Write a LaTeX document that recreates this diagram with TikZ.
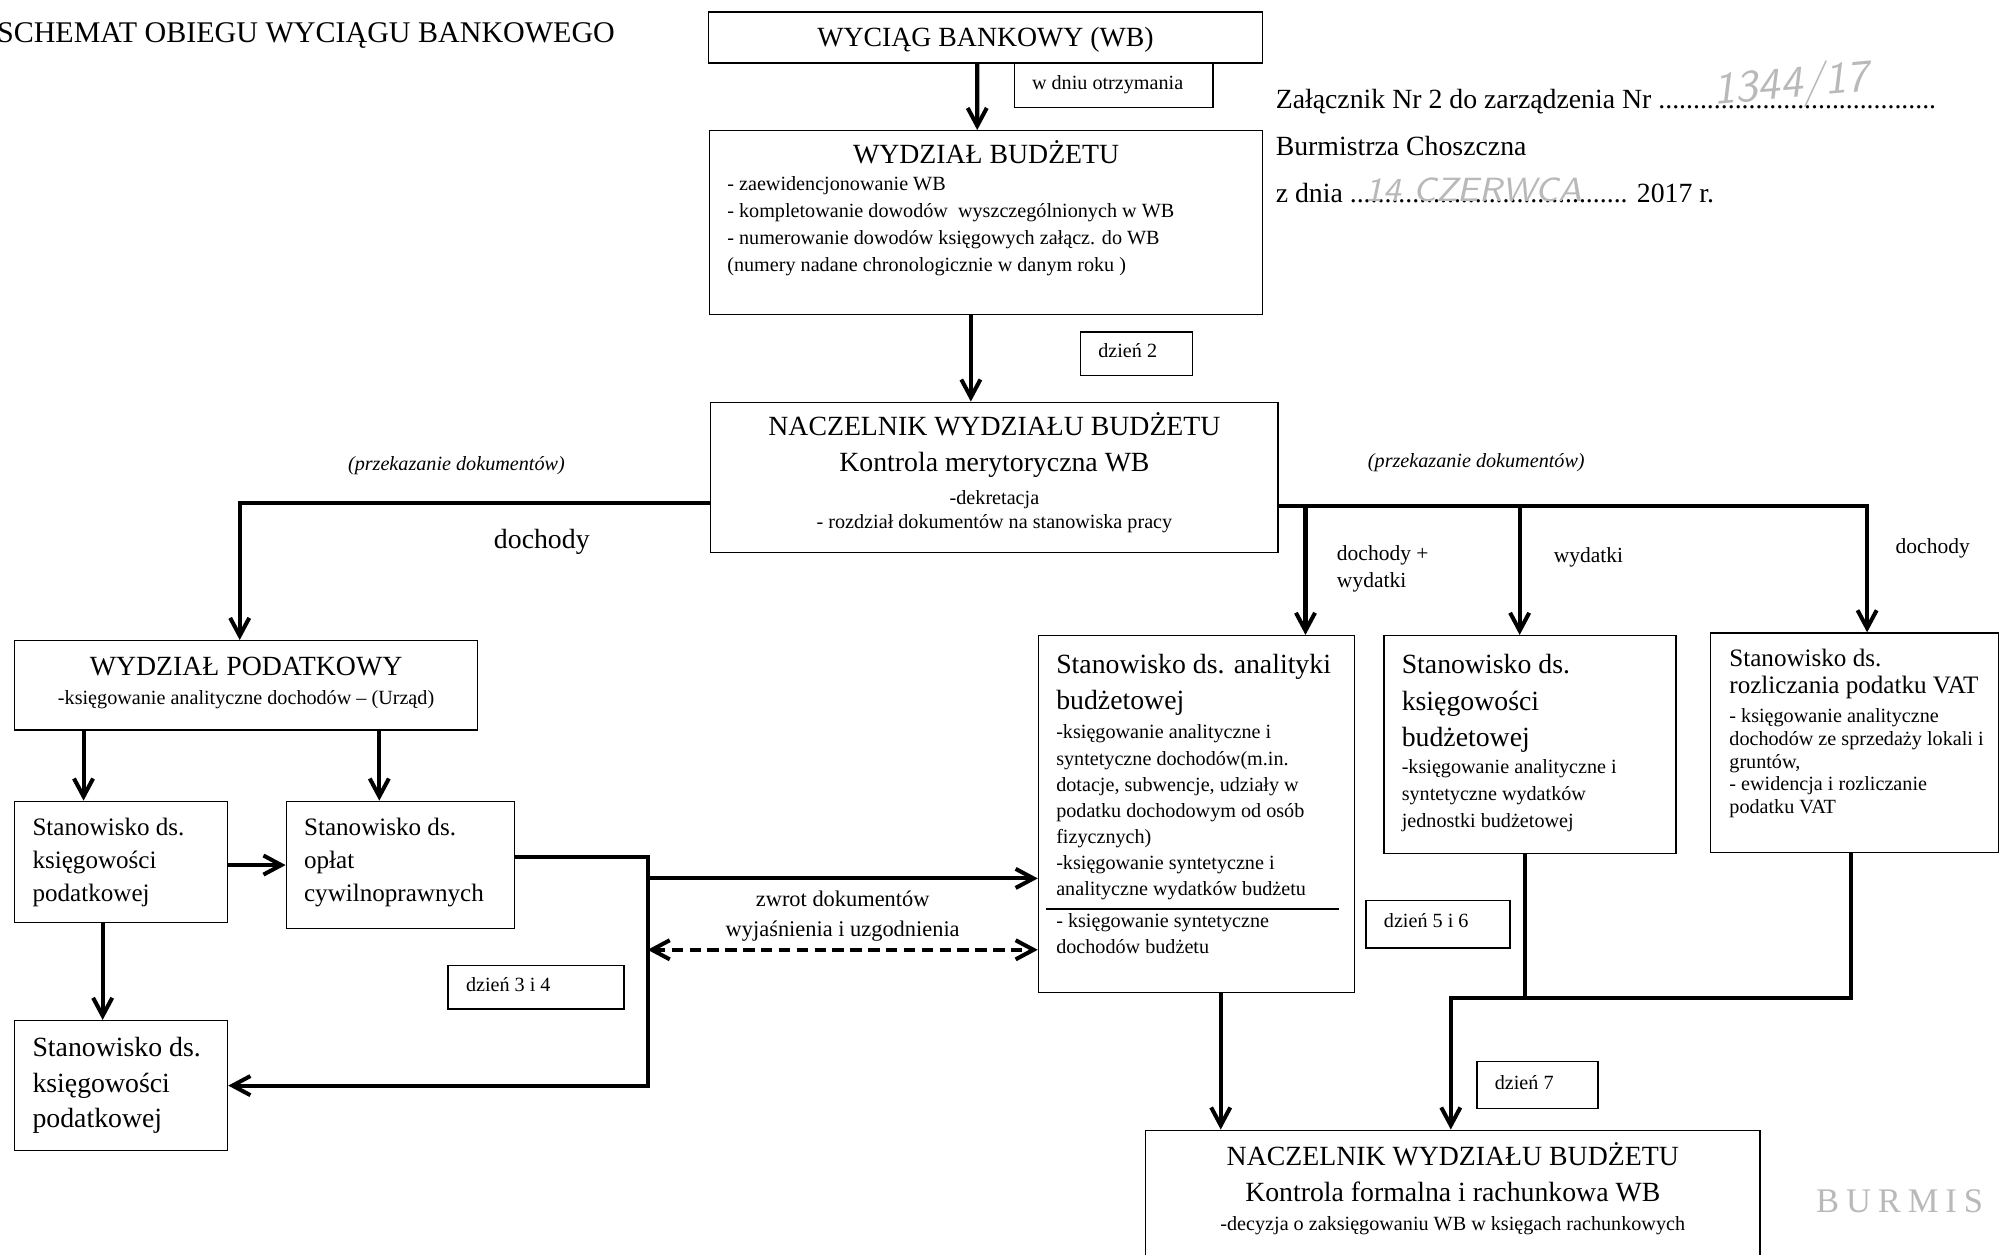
\documentclass[tikz,border=0pt]{standalone}
\usepackage{fontspec}
\setmainfont{Liberation Serif}
\usepackage{tikz}
\usetikzlibrary{arrows.meta, positioning, calc}
\setlength{\parindent}{0pt}

\newcommand{\hdfont}{\fontsize{6.2}{8}\selectfont}
\newcommand{\mdfont}{\fontsize{5.6}{7.4}\selectfont}
\newcommand{\smfont}{\fontsize{4.5}{6}\selectfont}
\newcommand{\lbfont}{\fontsize{4.8}{6}\selectfont}

\begin{document}
\begin{tikzpicture}[
  box/.style={draw, line width=0.3pt, anchor=north west, inner xsep=0.14cm, inner ysep=0pt, align=left,
    execute at begin node={\spaceskip=0pt\xspaceskip=0pt}},
  daybox/.style={box, font=\smfont},
  flow/.style={line width=0.9pt, -{Straight Barb[length=1.4mm, width=1.5mm]}},
  link/.style={line width=0.9pt},
  backflow/.style={line width=0.9pt, dash pattern=on 0.9mm off 0.5mm, {Straight Barb[length=1.4mm, width=1.5mm]}-{Straight Barb[length=1.4mm, width=1.5mm]}},
  tag/.style={inner sep=0pt, font=\lbfont},
  hand/.style={inner sep=0pt, text=gray!55}
]
\path[use as bounding box, fill=white] (0,0) rectangle (15.68,-9.84);

% Heading
\node[anchor=base west, inner sep=0pt, font=\fontsize{6.7}{8}\selectfont] (title) at (-0.03,-0.33) {SCHEMAT OBIEGU WYCIĄGU BANKOWEGO};
\node[anchor=base west, inner sep=0pt, font=\hdfont] (zal) at (10.00,-0.85) {Załącznik Nr 2 do zarządzenia Nr ........................................};
\node[anchor=base west, inner sep=0pt, font=\hdfont] (burm) at (10.00,-1.22) {Burmistrza Choszczna};
\node[anchor=base west, inner sep=0pt, font=\hdfont] (zdnia) at (10.00,-1.59) {z dnia ........................................ 2017 r.};
\node[hand, rotate=5, font=\sffamily\itshape\fontsize{10}{10}\selectfont] (nr) at (14.05,-0.68) {1344/17};
\node[hand, font=\sffamily\itshape\fontsize{7.5}{8}\selectfont] (data) at (11.56,-1.49) {14 CZERWCA};
\node[hand, font=\fontsize{7.7}{8}\selectfont\addfontfeature{LetterSpace=20}] (stamp) at (14.90,-9.42) {BURMIS};

% Top column
\node[box, font=\hdfont, text width=4.07cm, text height=0.27cm, text depth=0.13cm] (wb) at (5.55,-0.09) {{\centering WYCIĄG BANKOWY (WB)\par}};
\node[daybox, text width=1.28cm, text height=0.21cm, text depth=0.14cm] (dniu) at (7.95,-0.49) {w dniu otrzymania};
\node[box, font=\smfont, text width=4.06cm, text height=0.26cm, text depth=1.18cm] (budzet) at (5.56,-1.02)
  {{\centering\hdfont WYDZIAŁ BUDŻETU\par}
   - zaewidencjonowanie WB\\
   - kompletowanie dowodów\ \ wyszczególnionych w WB\\
   - numerowanie dowodów księgowych załącz. do WB\\
   (numery nadane chronologicznie w danym roku )};
\node[daybox, text width=0.60cm, text height=0.20cm, text depth=0.14cm] (dzien2) at (8.47,-2.60) {dzień 2};
\node[box, text width=4.17cm, text height=0.26cm, text depth=0.92cm] (nacz1) at (5.57,-3.15)
  {{\centering\hdfont NACZELNIK WYDZIAŁU BUDŻETU\par
    Kontrola merytoryczna WB\par
    \vspace{2pt}\fontsize{4.5}{5.4}\selectfont -dekretacja\par
    - rozdział dokumentów na stanowiska pracy\par}};

\draw[flow] ([xshift=-0.065cm]wb.south) -- ([xshift=-0.07cm]budzet.north);
\coordinate (c2) at ([xshift=-0.12cm]budzet.south);
\draw[flow] (c2) -- (c2 |- nacz1.north);

% Left branch
\node[tag, font=\fontsize{4.5}{6}\selectfont\itshape] (pk1) at (3.58,-3.65) {(przekazanie dokumentów)};
\node[tag, font=\hdfont] (doch1) at (4.25,-4.25) {dochody};
\node[box, text width=3.35cm, text height=0.27cm, text depth=0.43cm] (podatk) at (0.11,-5.02)
  {{\centering\hdfont WYDZIAŁ PODATKOWY\par
    \vspace{0.5pt}\smfont -księgowanie analityczne dochodów -- (Urząd)\par}};
\node[box, font=\mdfont, text width=1.39cm, text height=0.265cm, text depth=0.685cm] (ksp1) at (0.11,-6.28) {Stanowisko ds.\\ księgowości\\ podatkowej};
\node[box, font=\mdfont, text width=1.51cm, text height=0.265cm, text depth=0.735cm] (oplat) at (2.24,-6.28) {Stanowisko ds.\\ opłat\\ cywilnoprawnych};
\node[box, font=\hdfont, text width=1.39cm, text height=0.28cm, text depth=0.74cm] (ksp2) at (0.11,-8.00) {Stanowisko ds.\\ księgowości\\ podatkowej};
\node[daybox, text width=1.10cm, text height=0.20cm, text depth=0.14cm] (dzien34) at (3.51,-7.57) {dzień 3 i 4};

\draw[flow] ([yshift=-0.2cm]nacz1.west) -| ([xshift=-0.05cm]podatk.north);
\coordinate (p1) at ([xshift=-0.295cm]ksp1.north);
\coordinate (p2) at ([xshift=-0.165cm]oplat.north);
\coordinate (p3) at ([xshift=-0.145cm]ksp1.south);
\draw[flow] (p1 |- podatk.south) -- (p1);
\draw[flow] (p2 |- podatk.south) -- (p2);
\draw[flow] (ksp1.east |- oplat.west) -- (oplat.west);
\draw[flow] (p3) -- (p3 |- ksp2.north);

% Right branch
\node[tag, font=\fontsize{4.5}{6}\selectfont\itshape] (pk2) at (11.58,-3.63) {(przekazanie dokumentów)};
\node[tag, anchor=west, align=left] (doch2) at (10.48,-4.465) {dochody +\\ wydatki};
\node[tag] (wyd) at (12.46,-4.37) {wydatki};
\node[tag] (doch3) at (15.16,-4.30) {dochody};
\node[box, font=\fontsize{4.5}{5.83}\selectfont, text width=2.20cm, text height=0.30cm, text depth=2.50cm] (analit) at (8.14,-4.98)
  {{\hdfont Stanowisko ds. analityki\\ budżetowej\par}
   \vspace{0.7pt}
   -księgowanie analityczne i\\
   syntetyczne dochodów(m.in.\\
   dotacje, subwencje, udziały w\\
   podatku dochodowym od osób\\
   fizycznych)\\
   -księgowanie syntetyczne i\\
   analityczne wydatków budżetu\par
   \nointerlineskip\vspace{1.85pt}
   \hspace*{-0.08cm}\rule{2.3cm}{0.4pt}\par
   \nointerlineskip\vspace{0.8pt}
   - księgowanie syntetyczne\\
   dochodów budżetu};
\node[box, font=\fontsize{4.5}{6}\selectfont, text width=2.01cm, text height=0.30cm, text depth=1.41cm] (ksb) at (10.85,-4.98)
  {{\hdfont\baselineskip=8.1pt Stanowisko ds.\\ księgowości\\ budżetowej\par}
   -księgowanie analityczne i\\
   syntetyczne wydatków\\
   jednostki budżetowej};
\node[box, inner xsep=0.15cm, font=\fontsize{4.5}{5.1}\selectfont, text width=1.96cm, text height=0.265cm, text depth=1.455cm] (vat) at (13.41,-4.96)
  {{\fontsize{5.6}{6}\selectfont Stanowisko ds.\\ \mbox{rozliczania podatku VAT}\par}
   \vspace{1.3pt}
   - księgowanie analityczne\\
   \mbox{dochodów ze sprzedaży lokali i}\\
   gruntów,\\
   - ewidencja i rozliczanie\\
   podatku VAT};
\node[daybox, text width=0.85cm, text height=0.21cm, text depth=0.16cm] (dzien56) at (10.71,-7.06) {dzień 5 i 6};
\node[daybox, text width=0.67cm, text height=0.22cm, text depth=0.15cm] (dzien7) at (11.58,-8.32) {dzień 7};
\node[box, text width=4.54cm, text height=0.28cm, text depth=1.30cm] (nacz2) at (8.98,-8.86)
  {{\centering\hdfont NACZELNIK WYDZIAŁU BUDŻETU\par
    Kontrola formalna i rachunkowa WB\par
    \vspace{0.5pt}\smfont -decyzja o zaksięgowaniu WB w księgach rachunkowych\par}};

\draw[flow] ([yshift=-0.22cm]nacz1.east) -| ([xshift=0.1cm]vat.north);
\coordinate (d1) at (10.24,-3.96);
\coordinate (d2) at (11.92,-3.96);
\draw[flow] (d1) -- (d1 |- analit.north);
\draw[flow] (d2) -- (d2 |- ksb.north);

% Returns between the branches
\coordinate (jl) at (5.08,-6.89);
\coordinate (jd) at (5.08,-7.45);
\draw[flow] ([yshift=0.06cm]oplat.east) -| (jl) |- (ksp2.east);
\draw[flow] (jl) -- (jl -| analit.west);
\draw[backflow] (jd) -- (jd -| analit.west)
  node[midway, above=0.05cm, inner sep=0pt, align=center, font=\fontsize{5}{6.8}\selectfont] {zwrot dokumentów\\ wyjaśnienia i uzgodnienia};

% Into the final control
\coordinate (p4) at ([xshift=0.19cm]analit.south);
\coordinate (jb) at (11.38,-7.83);
\draw[flow] (p4) -- (p4 |- nacz2.north);
\draw[link] ([xshift=-0.035cm]ksb.south) |- (jb);
\draw[flow] ([xshift=-0.03cm]vat.south) |- (jb) -- (jb |- nacz2.north);

\end{tikzpicture}
\end{document}
